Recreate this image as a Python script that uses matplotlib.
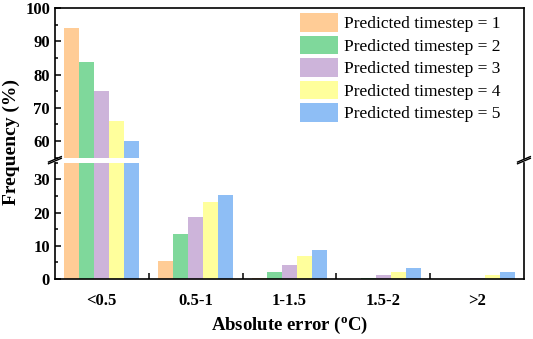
import numpy as np
import matplotlib.pyplot as plt
from matplotlib.ticker import MultipleLocator, FixedLocator

plt.rcParams['font.family'] = 'Liberation Serif'

# data
categories = ['<0.5', '0.5-1', '1-1.5', '1.5-2', '>2']
series_names = ['Predicted timestep = 1', 'Predicted timestep = 2', 'Predicted timestep = 3',
                'Predicted timestep = 4', 'Predicted timestep = 5']
step1 = [93.9, 5.5, 0.3, 0.1, 0.0]
step2 = [83.7, 13.5, 2.0, 0.3, 0.1]
step3 = [75.1, 18.6, 4.2, 1.3, 0.3]
step4 = [65.9, 23.1, 6.9, 2.1, 1.1]
step5 = [60.0, 25.3, 8.6, 3.4, 2.2]
colors = ['#FFCC96', '#7FD89B', '#CDB4DA', '#FFFF9C', '#8EBEF5']

values = [step1, step2, step3, step4, step5]
x = np.arange(len(categories))
w = 0.16

fig = plt.figure(figsize=(5.33, 3.39), dpi=100)
ax_top = fig.add_axes([0.103, 0.535, 0.880, 0.441])
ax_bot = fig.add_axes([0.103, 0.177, 0.880, 0.343])

for ax in (ax_top, ax_bot):
    for i, (vals, name, c) in enumerate(zip(values, series_names, colors)):
        ax.bar(x + (i - 2) * w, vals, width=w, color=c, label=name)
    ax.set_xlim(-0.5, 4.5)
    for s in ax.spines.values():
        s.set_linewidth(1.2)
    ax.tick_params(axis='y', which='both', direction='in', right=False, labelsize=12, width=1.1)
    ax.tick_params(axis='y', which='major', length=4)
    ax.tick_params(axis='y', which='minor', length=2.5)
    ax.yaxis.set_minor_locator(MultipleLocator(5))

ax_top.set_ylim(55, 100)
ax_top.set_yticks([60, 70, 80, 90, 100])
ax_top.spines['bottom'].set_visible(False)
ax_top.tick_params(axis='x', which='both', bottom=False, labelbottom=False)
for lab in ax_top.get_yticklabels():
    lab.set_fontweight('bold')

ax_bot.set_ylim(0, 35)
ax_bot.set_yticks([0, 10, 20, 30])
ax_bot.spines['top'].set_visible(False)
ax_bot.set_xticks(x)
ax_bot.set_xticklabels(categories, fontsize=12, fontweight='bold')
ax_bot.xaxis.set_minor_locator(FixedLocator([0.5, 1.5, 2.5, 3.5]))
ax_bot.tick_params(axis='x', which='major', length=0, pad=10)
ax_bot.tick_params(axis='x', which='minor', direction='in', length=4, width=1.1)
for lab in ax_bot.get_yticklabels():
    lab.set_fontweight('bold')

# break marks on left and right spines
d = 0.012
for xs in (0, 1):
    kw = dict(transform=fig.transFigure, color='k', lw=1, clip_on=False)
    xf = 0.103 + 0.880 * xs
    fig.add_artist(plt.Line2D([xf - d, xf + d], [0.522, 0.538], **kw))
    fig.add_artist(plt.Line2D([xf - d, xf + d], [0.517, 0.533], **kw))

ax_top.legend(loc='upper left', bbox_to_anchor=(0.522, 0.965), frameon=False, fontsize=12.5,
              handlelength=2.2, handleheight=1.25, labelspacing=0.2, handletextpad=0.35,
              borderaxespad=0, borderpad=0)

fig.text(0.022, 0.58, 'Frequency (%)', rotation=90, ha='center', va='center',
         fontsize=14, fontweight='bold')
fig.text(0.543, 0.04, 'Absolute error ($\\mathregular{^{o}}$C)', ha='center', va='center',
         fontsize=13.5, fontweight='bold')

fig.savefig('out.png', dpi=100)
